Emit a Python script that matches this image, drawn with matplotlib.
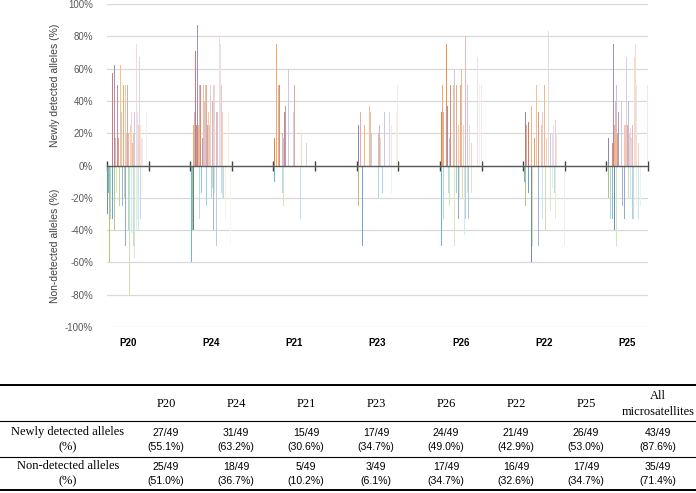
import matplotlib
matplotlib.use("Agg")
import matplotlib.pyplot as plt
import matplotlib.transforms as mtrans
import numpy as np
from matplotlib.colors import to_rgb
from matplotlib.lines import Line2D

# one value per microsatellite (49), percent of alleles
groups = ["P20", "P24", "P21", "P23", "P26", "P22", "P25"]

P20_new = [0, 0, 0, 0, 0, 0, 57, 0, 62, 80,
           17, 0, 50, 17, 0, 62, 60, 33, 0, 50,
           0, 50, 20, 0, 50, 20, 0, 25, 33, 0,
           14, 20, 33, 0, 75, 33, 0, 25, 67, 25,
           17, 17, 0, 0, 0, 0, 33, 0, 0]
P20_non = [30, 17, 60, 0, 33, 0, 33, 0, 40, 33,
           0, 17, 0, 0, 25, 0, 50, 0, 25, 0,
           20, 50, 0, 25, 0, 40, 80, 0, 42, 33,
           0, 50, 57, 0, 40, 33, 0, 40, 0, 33,
           0, 17, 0, 0, 0, 0, 0, 0, 0]
P24_new = [0, 0, 0, 25, 50, 33, 71, 25, 87, 25,
           50, 40, 50, 0, 17, 50, 40, 50, 67, 50,
           25, 33, 25, 50, 50, 0, 40, 50, 50, 0,
           33, 0, 33, 0, 80, 75, 50, 33, 0, 0,
           0, 0, 0, 0, 0, 33, 0, 0, 0]
P24_non = [0, 60, 40, 40, 0, 0, 0, 0, 0, 0,
           33, 75, 0, 17, 0, 0, 0, 0, 0, 25,
           0, 0, 0, 0, 0, 20, 14, 40, 17, 0,
           50, 43, 0, 0, 0, 0, 17, 20, 0, 20,
           0, 33, 0, 0, 0, 0, 0, 50, 0]
P21_new = [0, 17, 0, 75, 0, 50, 14, 50, 0, 0,
           20, 17, 33, 50, 37, 0, 0, 60, 0, 0,
           0, 0, 0, 33, 50, 0, 0, 0, 0, 0,
           0, 0, 0, 20, 0, 0, 0, 0, 14, 0,
           0, 0, 0, 0, 0, 0, 0, 0, 0]
P21_non = [0, 10, 0, 0, 0, 0, 0, 0, 0, 0,
           17, 25, 0, 17, 0, 0, 0, 0, 0, 0,
           0, 0, 0, 0, 0, 0, 0, 0, 0, 0,
           0, 33, 0, 0, 0, 0, 0, 0, 0, 0,
           0, 0, 0, 0, 0, 0, 0, 0, 0]
P23_new = [0, 17, 25, 0, 33, 0, 0, 25, 0, 25,
           0, 0, 0, 0, 0, 37, 33, 20, 0, 0,
           0, 0, 0, 0, 0, 20, 25, 0, 17, 0,
           0, 0, 33, 0, 25, 0, 0, 0, 33, 0,
           25, 0, 0, 0, 0, 0, 33, 0, 50]
P23_non = [0, 0, 25, 0, 0, 0, 50, 0, 0, 0,
           0, 0, 0, 0, 0, 0, 0, 0, 0, 0,
           0, 0, 0, 0, 0, 20, 0, 0, 0, 0,
           17, 0, 0, 0, 0, 0, 0, 0, 0, 0,
           17, 0, 0, 0, 0, 0, 0, 0, 0]
P26_new = [0, 33, 33, 50, 33, 0, 0, 75, 37, 0,
           0, 17, 50, 0, 0, 50, 0, 60, 0, 50,
           0, 25, 0, 0, 50, 60, 0, 25, 0, 25,
           80, 0, 50, 0, 25, 0, 0, 14, 0, 0,
           0, 0, 75, 0, 67, 0, 50, 0, 50]
P26_non = [0, 50, 33, 0, 33, 0, 0, 0, 0, 0,
           17, 25, 0, 0, 0, 0, 0, 50, 0, 17,
           0, 33, 0, 20, 0, 0, 20, 0, 43, 0,
           33, 0, 17, 33, 0, 40, 0, 17, 0, 0,
           0, 0, 50, 0, 0, 0, 0, 0, 0]
P22_new = [0, 0, 33, 25, 0, 0, 27, 0, 0, 37,
           80, 0, 0, 17, 0, 50, 0, 20, 33, 0,
           0, 25, 33, 0, 25, 50, 0, 17, 0, 83,
           33, 0, 20, 0, 20, 25, 0, 0, 28, 20,
           0, 0, 0, 0, 0, 0, 0, 0, 0]
P22_non = [0, 10, 25, 0, 0, 0, 17, 0, 0, 60,
           0, 50, 0, 0, 0, 0, 0, 43, 50, 0,
           0, 0, 33, 0, 17, 0, 40, 0, 0, 0,
           20, 0, 28, 0, 14, 0, 17, 0, 33, 0,
           0, 0, 0, 0, 0, 0, 0, 0, 50]
P25_new = [0, 0, 17, 0, 0, 0, 0, 14, 75, 25,
           40, 50, 0, 20, 33, 0, 0, 40, 0, 33,
           0, 25, 25, 67, 25, 0, 40, 20, 23, 17,
           25, 0, 33, 67, 75, 50, 0, 14, 0, 33,
           0, 0, 0, 0, 0, 0, 0, 0, 50]
P25_non = [0, 0, 20, 0, 33, 0, 0, 33, 0, 40,
           0, 50, 0, 0, 0, 0, 0, 0, 25, 17,
           0, 33, 0, 0, 0, 0, 20, 0, 20, 0,
           33, 33, 20, 0, 0, 25, 0, 33, 0, 17,
           25, 0, 0, 0, 0, 0, 0, 0, 0]

newly = [P20_new, P24_new, P21_new, P23_new, P26_new, P22_new, P25_new]
nondet = [P20_non, P24_non, P21_non, P23_non, P26_non, P22_non, P25_non]

# summary table
table_cols = ["P20", "P24", "P21", "P23", "P26", "P22", "P25", "All\nmicrosatellites"]
newly_counts = ["27/49\n(55.1%)", "31/49\n(63.2%)", "15/49\n(30.6%)", "17/49\n(34.7%)",
                "24/49\n(49.0%)", "21/49\n(42.9%)", "26/49\n(53.0%)", "43/49\n(87.6%)"]
non_counts = ["25/49\n(51.0%)", "18/49\n(36.7%)", "5/49\n(10.2%)", "3/49\n(6.1%)",
              "17/49\n(34.7%)", "16/49\n(32.6%)", "17/49\n(34.7%)", "35/49\n(71.4%)"]

warm = ["#C0504D", "#E46C0A", "#8064A2", "#F79646", "#D99694", "#B3A2C7"]
cool = ["#4F81BD", "#4BACC6", "#9BBB59", "#376092", "#93CDDD", "#C3D69B"]


def shade(base, i, n):
    t = 0.15 + 0.72 * i / (n - 1)
    c = np.array(to_rgb(base))
    return tuple(c + (1 - c) * t)


W, H = 696, 493
fig = plt.figure(figsize=(W / 100, H / 100), dpi=100)
ax = fig.add_axes([107 / W, 1 - 327 / H, (648 - 107) / W, (327 - 4) / H])

n = 49
w = 1.0 / n
pos_cols = [shade(warm[i % len(warm)], i, n) for i in range(n)]
neg_cols = [shade(cool[i % len(cool)], i, n) for i in range(n)]
lab_tr = mtrans.blended_transform_factory(ax.transData, fig.transFigure)
for g, name in enumerate(groups):
    xs = 2 * g - 0.5 + (np.arange(n) + 0.5) * w
    ax.bar(xs, newly[g], width=w, color=pos_cols, linewidth=0, zorder=2)
    ax.bar(xs, -np.array(nondet[g]), width=w, color=neg_cols, linewidth=0, zorder=2)
    ax.text(2 * g, 1 - 343 / H, name, transform=lab_tr, ha="center", va="center",
            fontsize=7, fontweight="bold", family="Liberation Sans")

ax.set_xlim(-0.5, 12.5)
ax.set_ylim(-100, 100)
ax.set_xticks(np.arange(-0.5, 13, 1))
ax.set_yticks(range(-100, 101, 20))
ax.set_yticklabels([f"{v}%" for v in range(-100, 101, 20)], family="Liberation Sans")
for s in ["top", "right", "left"]:
    ax.spines[s].set_visible(False)
ax.spines["bottom"].set_position(("data", 0))
ax.spines["bottom"].set_color("#595959")
ax.spines["bottom"].set_linewidth(1.0)
ax.spines["bottom"].set_zorder(3)
ax.tick_params(axis="x", direction="inout", length=7, width=1, color="#404040",
               labelbottom=False)
ax.tick_params(axis="y", length=0, labelsize=7, labelcolor="#595959", pad=10)
ax.yaxis.grid(True, color="#D9D9D9", lw=0.9)
ax.set_axisbelow(True)

fig.text(55 / W, 1 - 85 / H, "Newly detected alleles (%)", rotation=90, ha="center",
         va="center", fontsize=7.5, color="#404040", family="Liberation Sans")
fig.text(55 / W, 1 - 246 / H, "Non-detected alleles (%)", rotation=90, ha="center",
         va="center", fontsize=7.5, color="#404040", family="Liberation Sans")

# table below the chart
def hline(y, lw):
    fig.add_artist(Line2D([0, 1], [1 - y / H, 1 - y / H], color="black", lw=lw,
                          transform=fig.transFigure))

hline(385, 1.4)
hline(421, 0.8)
hline(457, 0.8)
hline(490, 1.4)

col_x = [166, 236, 306, 376, 446, 516, 586, 658]
serif = "Liberation Serif"
for x, c in zip(col_x, table_cols):
    fig.text(x / W, 1 - 404 / H, c, ha="center", va="center", fontsize=9,
             family=serif, linespacing=1.35)
fig.text(68 / W, 1 - 440 / H, "Newly detected alleles\n(%)", ha="center", va="center",
         fontsize=9, family=serif, linespacing=1.35)
fig.text(68 / W, 1 - 474 / H, "Non-detected alleles\n(%)", ha="center", va="center",
         fontsize=9, family=serif, linespacing=1.35)
for x, a, b in zip(col_x, newly_counts, non_counts):
    fig.text(x / W, 1 - 440 / H, a, ha="center", va="center", fontsize=7.6,
             family="Liberation Sans", linespacing=1.4)
    fig.text(x / W, 1 - 474 / H, b, ha="center", va="center", fontsize=7.6,
             family="Liberation Sans", linespacing=1.4)

fig.savefig("out.png", dpi=100)
